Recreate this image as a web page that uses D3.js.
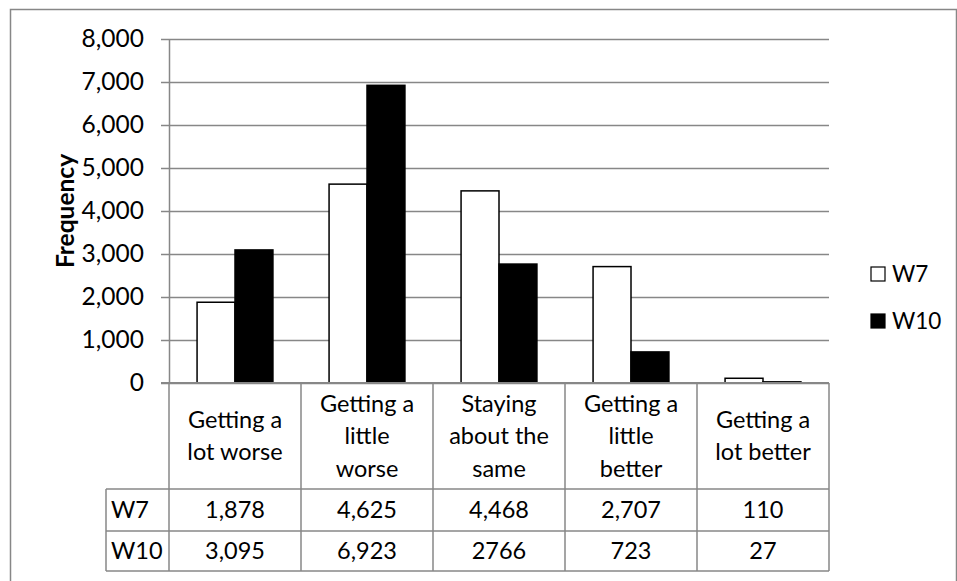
<!DOCTYPE html>
<html>
<head>
<meta charset="utf-8">
<script src="https://cdn.jsdelivr.net/npm/d3@7"></script>
<style>
  html, body { margin: 0; padding: 0; background: #fff; }
  svg { display: block; font-family: Lato, "Open Sans", sans-serif; }
</style>
</head>
<body>
<svg id="chart" width="957" height="581"></svg>
<script>
// Categories (with line breaks used in the data table header)
const categories = ["Getting a lot worse", "Getting a little worse", "Staying about the same", "Getting a little better", "Getting a lot better"];
const categoryLines = [
  ["Getting a", "lot worse"],
  ["Getting a", "little", "worse"],
  ["Staying", "about the", "same"],
  ["Getting a", "little", "better"],
  ["Getting a", "lot better"]
];
const seriesNames = ["W7", "W10"];
const w7Values = [1878, 4625, 4468, 2707, 110];
const w10Values = [3095, 6923, 2766, 723, 27];
// Table cells as printed
const w7Labels = ["1,878", "4,625", "4,468", "2,707", "110"];
const w10Labels = ["3,095", "6,923", "2766", "723", "27"];
const yTicks = [0, 1000, 2000, 3000, 4000, 5000, 6000, 7000, 8000];

const svg = d3.select("#chart");
const grey = "#878787";

// Layout
const plot = { left: 169, right: 829, top: 39, bottom: 383 };
const table = { labelLeft: 106, headerBottom: 489, row1Bottom: 531, row2Bottom: 571 };

// Outer chart frame
svg.append("rect")
  .attr("x", 10.5).attr("y", 9.5)
  .attr("width", 946).attr("height", 600)
  .attr("fill", "none").attr("stroke", grey).attr("stroke-width", 1.5);

const x = d3.scaleBand().domain(categories).range([plot.left, plot.right]).paddingInner(0).paddingOuter(0);
const y = d3.scaleLinear().domain([0, 8000]).range([plot.bottom, plot.top]);
const bw = x.bandwidth();
const xs = d3.scaleBand().domain(seriesNames).range([0, bw]).paddingInner(0).paddingOuter(0.74);

// Gridlines + ticks via axis
const yAxis = d3.axisLeft(y).tickValues(yTicks).tickFormat(d3.format(",")).tickSize(-(plot.right - plot.left)).tickSizeOuter(0).tickPadding(25);
const gy = svg.append("g").attr("transform", `translate(${plot.left},0)`).call(yAxis);
gy.select(".domain").remove();
gy.selectAll(".tick line").attr("stroke", grey).attr("stroke-width", 1.5).attr("x1", -8);
gy.selectAll(".tick text").attr("font-size", 24.5).attr("fill", "#000").attr("font-family", "Lato, sans-serif");

// Vertical axis line
svg.append("line")
  .attr("x1", plot.left + 0.5).attr("x2", plot.left + 0.5)
  .attr("y1", plot.top).attr("y2", plot.bottom)
  .attr("stroke", grey).attr("stroke-width", 1.5);

// Axis title
svg.append("text")
  .attr("transform", `translate(65,${(plot.top + plot.bottom) / 2}) rotate(-90)`)
  .attr("text-anchor", "middle")
  .attr("dy", "0.35em")
  .attr("font-size", 24.5).attr("font-weight", "bold")
  .text("Frequency");

// Bars
const seriesData = [
  { name: "W7", values: w7Values, fill: "#fff", stroke: "#000" },
  { name: "W10", values: w10Values, fill: "#000", stroke: "none" }
];
seriesData.forEach(s => {
  svg.append("g").selectAll("rect")
    .data(categories.map((c, i) => ({ c, v: s.values[i] })))
    .join("rect")
    .attr("x", d => x(d.c) + xs(s.name) - (s.stroke === "none" ? 0.75 : 0))
    .attr("width", xs.bandwidth() + (s.stroke === "none" ? 1.5 : 0))
    .attr("y", d => y(d.v) - (s.stroke === "none" ? 0.75 : 0))
    .attr("height", d => y(0) - y(d.v) + (s.stroke === "none" ? 0.75 : 0))
    .attr("fill", s.fill)
    .attr("stroke", s.stroke).attr("stroke-width", 1.5);
});

// Data table
const tg = svg.append("g");
const line = (x1, y1, x2, y2) => tg.append("line")
  .attr("x1", x1).attr("y1", y1).attr("x2", x2).attr("y2", y2)
  .attr("stroke", grey).attr("stroke-width", 1.5);

// Horizontal rules
line(plot.left - 8, plot.bottom, plot.right, plot.bottom).attr("stroke-width", 2);
line(table.labelLeft, table.headerBottom, plot.right, table.headerBottom);
line(table.labelLeft, table.row1Bottom, plot.right, table.row1Bottom);
line(table.labelLeft, table.row2Bottom, plot.right, table.row2Bottom);
// Vertical rules
line(table.labelLeft, table.headerBottom, table.labelLeft, table.row2Bottom);
categories.forEach(c => line(x(c), plot.bottom, x(c), table.row2Bottom));
line(plot.right, plot.bottom, plot.right, table.row2Bottom);

// Header text
const fs = 23.5;
const lh = 32.5;
categories.forEach((c, i) => {
  const lines = categoryLines[i];
  const cy = (plot.bottom + table.headerBottom) / 2;
  const t = tg.append("text")
    .attr("text-anchor", "middle")
    .attr("font-size", fs);
  lines.forEach((ln, j) => {
    t.append("tspan")
      .attr("x", x(c) + bw / 2)
      .attr("y", cy + (j - (lines.length - 1) / 2) * lh)
      .attr("dy", "0.35em")
      .text(ln);
  });
});

// Row labels and values
const rows = [
  { name: "W7", labels: w7Labels, top: table.headerBottom, bottom: table.row1Bottom },
  { name: "W10", labels: w10Labels, top: table.row1Bottom, bottom: table.row2Bottom }
];
rows.forEach(r => {
  const cy = (r.top + r.bottom) / 2;
  tg.append("text").attr("x", table.labelLeft + 5).attr("y", cy).attr("dy", "0.35em")
    .attr("font-size", fs).text(r.name);
  r.labels.forEach((lab, i) => {
    tg.append("text").attr("x", x(categories[i]) + bw / 2).attr("y", cy).attr("dy", "0.35em")
      .attr("text-anchor", "middle").attr("font-size", fs).text(lab);
  });
});

// Legend
const legend = svg.append("g");
seriesData.forEach((s, i) => {
  const ly = 274 + i * 47;
  legend.append("rect").attr("x", 871).attr("y", ly - 7).attr("width", 14).attr("height", 14)
    .attr("fill", s.fill).attr("stroke", "#000").attr("stroke-width", 1.2);
  legend.append("text").attr("x", 892).attr("y", ly).attr("dy", "0.35em")
    .attr("font-size", 22.5).text(s.name);
});
</script>
</body>
</html>
